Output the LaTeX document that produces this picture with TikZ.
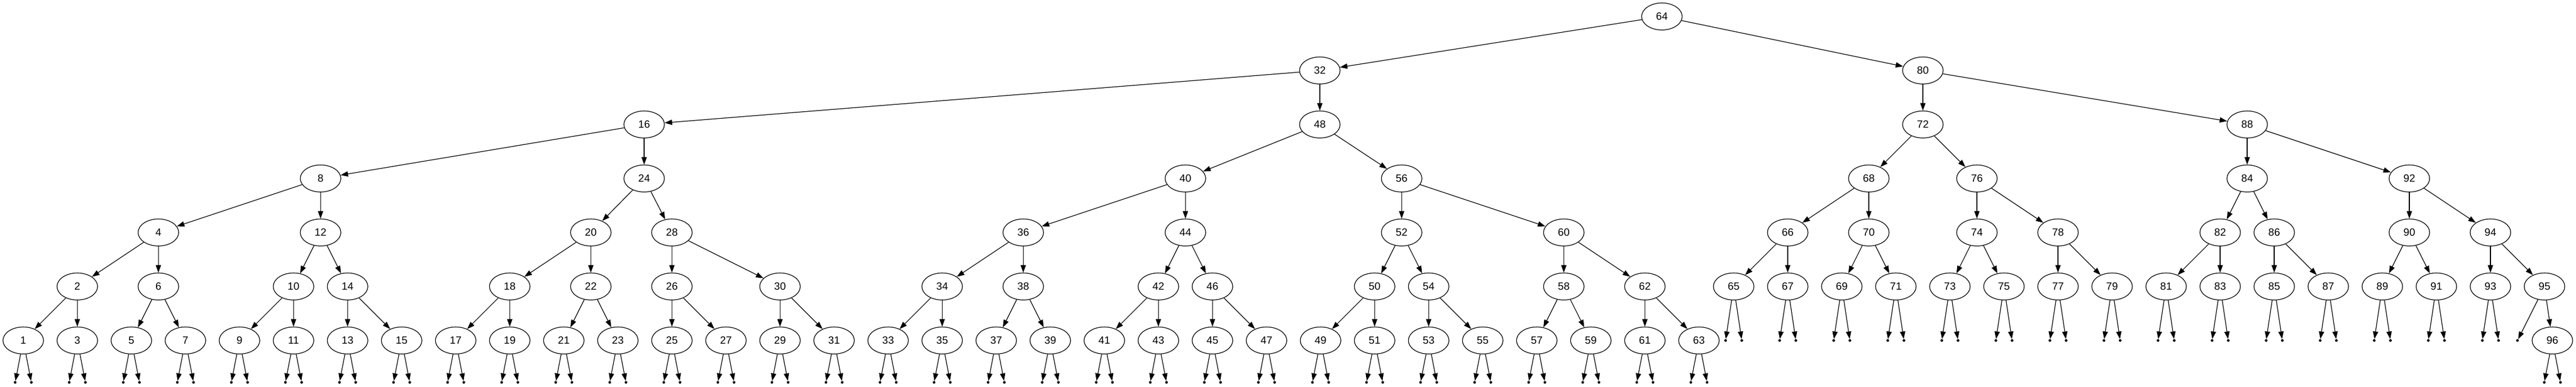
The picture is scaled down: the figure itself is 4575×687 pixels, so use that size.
\documentclass[tikz,border=0pt]{standalone}
\usepackage{fontspec}
\setmainfont{Liberation Sans}
\usetikzlibrary{arrows.meta,shapes.geometric}
\begin{document}
\begin{tikzpicture}[x=0.75pt,y=-0.75pt,
  tn/.style={draw, ellipse, minimum width=54pt, minimum height=36pt, inner sep=0pt, line width=0.9pt, font=\fontsize{14}{16}\selectfont},
  np/.style={circle, fill, inner sep=0pt, minimum size=3.6pt},
  ed/.style={-{Triangle[length=10pt,width=7pt]}, line width=0.9pt}]
\useasboundingbox (0,0) rectangle (4575,687);
% internal nodes
\foreach \n/\x/\y in {64/2951.5/29.3,
  32/2344/125.3, 80/3415/125.3,
  16/1144/221.3, 48/2344/221.3, 72/3415/221.3, 88/3991/221.3,
  8/569.3/317.3, 24/1144/317.3, 40/2105.3/317.3, 56/2489.3/317.3, 68/3319/317.3, 76/3511/317.3, 84/3991/317.3, 92/4279/317.3,
  4/281.3/413.3, 12/569.3/413.3, 20/1049.3/413.3, 28/1193.3/413.3, 36/1817.3/413.3, 44/2105.3/413.3, 52/2489.3/413.3, 60/2777.3/413.3,
  66/3175/413.3, 70/3319/413.3, 74/3511/413.3, 78/3655/413.3, 82/3943/413.3, 86/4039/413.3, 90/4279/413.3, 94/4423/413.3,
  2/137.3/509.3, 6/281.3/509.3, 10/521.3/509.3, 14/617.3/509.3, 18/905.3/509.3, 22/1049.3/509.3, 26/1193.3/509.3, 30/1385.3/509.3,
  34/1673.3/509.3, 38/1817.3/509.3, 42/2057.3/509.3, 46/2153.3/509.3, 50/2441.3/509.3, 54/2537.3/509.3, 58/2777.3/509.3, 62/2921.3/509.3}
  \node[tn] (n\n) at (\x,\y) {\n};
% deepest leaves 1..63
\foreach \k in {1,3,...,63} {
  \node[tn] (n\k) at ({41.3+48*(\k-1)},605.3) {\k};
  \node[np] (n\k-a) at ({41.3+48*(\k-1)-14.4},679.7) {};
  \node[np] (n\k-b) at ({41.3+48*(\k-1)+14.4},679.7) {};
  \draw[ed] (n\k) -- (n\k-a);
  \draw[ed] (n\k) -- (n\k-b);
}
% leaves 65..93
\foreach \k in {65,67,...,93} {
  \node[tn] (n\k) at ({3079+48*(\k-65)},509.3) {\k};
  \node[np] (n\k-a) at ({3079+48*(\k-65)-14.4},605.3) {};
  \node[np] (n\k-b) at ({3079+48*(\k-65)+14.4},605.3) {};
  \draw[ed] (n\k) -- (n\k-a);
  \draw[ed] (n\k) -- (n\k-b);
}
\node[tn] (n95) at (4519,509.3) {95};
\node[np] (n95-a) at (4471,605.3) {};
\node[tn] (n96) at (4533,605.3) {96};
\node[np] (n96-a) at (4518.6,679.7) {};
\node[np] (n96-b) at (4547.4,679.7) {};
\draw[ed] (n95) -- (n95-a);
\draw[ed] (n95) -- (n96);
\draw[ed] (n96) -- (n96-a);
\draw[ed] (n96) -- (n96-b);
% tree edges
\foreach \p/\l/\r in {64/32/80, 32/16/48, 80/72/88,
  16/8/24, 48/40/56, 72/68/76, 88/84/92,
  8/4/12, 24/20/28, 40/36/44, 56/52/60, 68/66/70, 76/74/78, 84/82/86, 92/90/94,
  4/2/6, 12/10/14, 20/18/22, 28/26/30, 36/34/38, 44/42/46, 52/50/54, 60/58/62,
  66/65/67, 70/69/71, 74/73/75, 78/77/79, 82/81/83, 86/85/87, 90/89/91, 94/93/95} {
  \draw[ed] (n\p) -- (n\l);
  \draw[ed] (n\p) -- (n\r);
}
\foreach \k [evaluate=\k as \l using int(\k-1), evaluate=\k as \r using int(\k+1)] in {2,6,...,62} {
  \draw[ed] (n\k) -- (n\l);
  \draw[ed] (n\k) -- (n\r);
}
\end{tikzpicture}
\end{document}
